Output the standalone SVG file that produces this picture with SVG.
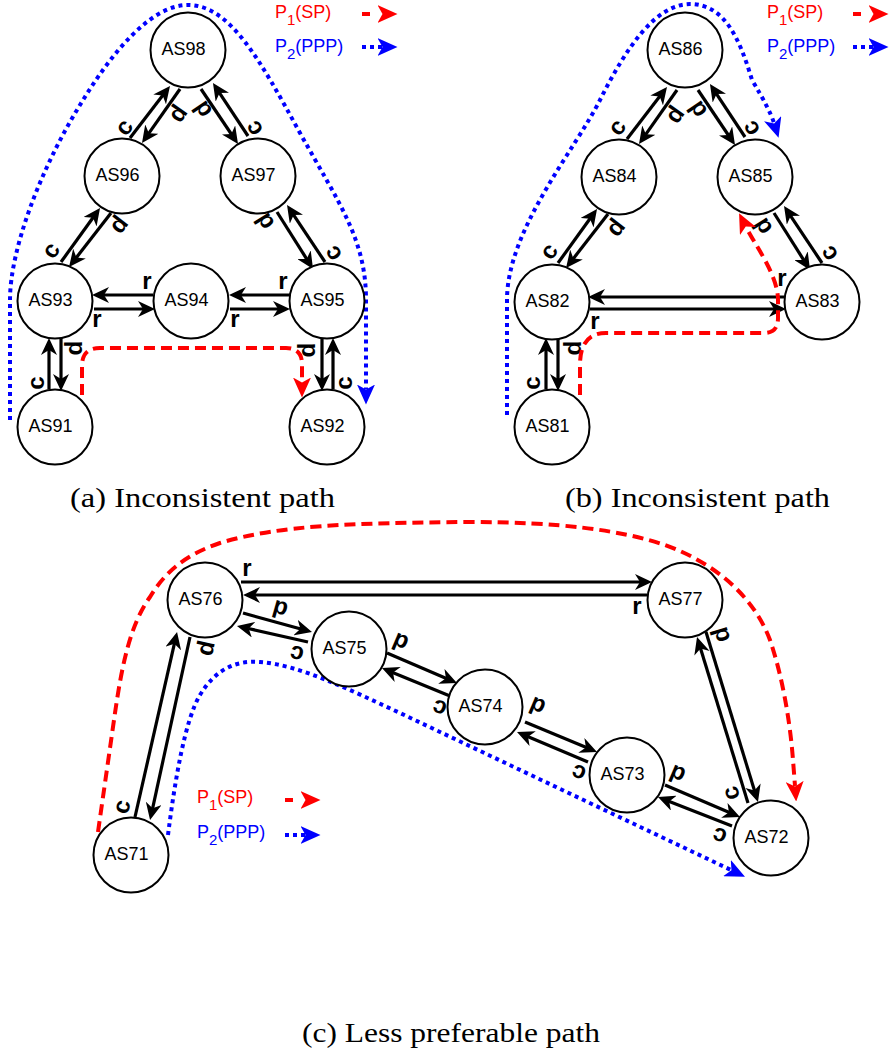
<svg xmlns="http://www.w3.org/2000/svg" width="891" height="1055" viewBox="0 0 891 1055">
  <defs>
    <marker id="ah" markerUnits="userSpaceOnUse" viewBox="0 0 17 16" markerWidth="17" markerHeight="16" refX="5.5" refY="8" orient="auto">
      <path d="M0,0 L17,8 L0,16 L5,8 Z" fill="#000"/>
    </marker>
    <marker id="ah-red" markerUnits="userSpaceOnUse" viewBox="0 0 20 18" markerWidth="20" markerHeight="18" refX="4.5" refY="9" orient="auto">
      <path d="M0,0 L20,9 L0,18 L5,9 Z" fill="#f00"/>
    </marker>
    <marker id="ah-blue" markerUnits="userSpaceOnUse" viewBox="0 0 20 18" markerWidth="20" markerHeight="18" refX="4.5" refY="9" orient="auto">
      <path d="M0,0 L20,9 L0,18 L5,9 Z" fill="#00f"/>
    </marker>
  </defs>
  <style>
    .node circle { fill: #fff; stroke: #000; stroke-width: 2; }
    .node text { font-family: "Liberation Sans", Arial, sans-serif; font-size: 18px; text-anchor: middle; fill: #000; }
    .link { fill: none; stroke: #000; stroke-width: 3.2; marker-end: url(#ah); }
    .rel { font-family: "Liberation Sans", Arial, sans-serif; font-size: 24px; font-weight: bold; text-anchor: middle; fill: #000; }
    .sp { fill: none; stroke: #f00; stroke-width: 4; stroke-dasharray: 11 6; marker-end: url(#ah-red); }
    .ppp { fill: none; stroke: #00f; stroke-width: 4; stroke-dasharray: 4 4; marker-end: url(#ah-blue); }
    .key { font-family: "Liberation Sans", Arial, sans-serif; font-size: 18px; }
    .key tspan.sub { font-size: 15px; }
    .cap { font-family: "Liberation Serif", "Times New Roman", serif; font-size: 28px; fill: #000; }
  </style>

  <rect width="891" height="1055" fill="#fff"/>

  <!-- ===== connectors (AS relationships) ===== -->
  <g id="connectors">
    <!-- panel a -->
    <path class="link" d="M94,309 L143.5,309"/>
    <path class="link" d="M153,295 L103.5,295"/>
    <path class="link" d="M230,309 L278.5,309"/>
    <path class="link" d="M290,295 L240.5,295"/>
    <path class="link" d="M49,389 L49,349.5"/>
    <path class="link" d="M61,338 L61,379.5"/>
    <path class="link" d="M322,338 L322,379.5"/>
    <path class="link" d="M333,389 L333,349.5"/>
    <path class="link" d="M61,262 L93.3,217.3"/>
    <path class="link" d="M111,213 L76.1,257.9"/>
    <path class="link" d="M130,138 L163,95.1"/>
    <path class="link" d="M180,89 L148.6,133.6"/>
    <path class="link" d="M201,89 L231.6,134.5"/>
    <path class="link" d="M248,136 L219.3,92.6"/>
    <path class="link" d="M277,212 L306.9,259.3"/>
    <path class="link" d="M325,262 L293.4,214.6"/>

    <!-- panel b -->
    <path class="link" d="M627,139 L660,96.1"/>
    <path class="link" d="M677,90 L645.6,134.6"/>
    <path class="link" d="M698,90 L728.6,135.5"/>
    <path class="link" d="M745,137 L716.3,93.6"/>
    <path class="link" d="M558,263 L590.3,218.3"/>
    <path class="link" d="M608,214 L573.1,258.9"/>
    <path class="link" d="M774,213 L803.9,260.3"/>
    <path class="link" d="M822,263 L790.4,215.6"/>
    <path class="link" d="M785,297 L599.5,297"/>
    <path class="link" d="M590,309 L774.5,309"/>
    <path class="link" d="M546,389 L546,349.5"/>
    <path class="link" d="M558,338 L558,379.5"/>

    <!-- panel c -->
    <path class="link" d="M241,582 L640.5,582"/>
    <path class="link" d="M647,595 L254.5,595"/>
    <path class="link" d="M243,613 L300.9,629"/>
    <path class="link" d="M308,642 L248.2,628.5"/>
    <path class="link" d="M387,653 L446.4,678.5"/>
    <path class="link" d="M450,696 L392.6,672.4"/>
    <path class="link" d="M525,722 L586.4,747.6"/>
    <path class="link" d="M588,762 L527.6,736.5"/>
    <path class="link" d="M665,785 L729.4,812.5"/>
    <path class="link" d="M732,826 L668.7,801.2"/>
    <path class="link" d="M748,803 L700.4,648"/>
    <path class="link" d="M706,632 L754.6,791"/>
    <path class="link" d="M135,817 L174.5,643.2"/>
    <path class="link" d="M190,637 L152.5,808.8"/>

    <!-- relationship labels: panel a -->
    <text class="rel" transform="translate(125,128) rotate(-53)" y="6.5">c</text>
    <text class="rel" transform="translate(177,113) rotate(125)" y="4">p</text>
    <text class="rel" transform="translate(202,110) rotate(56)" y="4">p</text>
    <text class="rel" transform="translate(255,128) rotate(-123)" y="6.5">c</text>
    <text class="rel" transform="translate(52,251) rotate(-54)" y="6.5">c</text>
    <text class="rel" transform="translate(118,224) rotate(128)" y="4">p</text>
    <text class="rel" transform="translate(264,222) rotate(58)" y="4">p</text>
    <text class="rel" transform="translate(334,253) rotate(-124)" y="6.5">c</text>
    <text class="rel" x="147" y="289">r</text>
    <text class="rel" x="97" y="327">r</text>
    <text class="rel" x="283" y="289">r</text>
    <text class="rel" x="235" y="327">r</text>
    <text class="rel" transform="translate(73,348) rotate(90)" y="4">p</text>
    <text class="rel" transform="translate(37,383) rotate(-90)" y="6.5">c</text>
    <text class="rel" transform="translate(306,350) rotate(90)" y="4">p</text>
    <text class="rel" transform="translate(345,383) rotate(-90)" y="6.5">c</text>

    <!-- relationship labels: panel b -->
    <text class="rel" transform="translate(618,128) rotate(-53)" y="6.5">c</text>
    <text class="rel" transform="translate(674,114) rotate(125)" y="4">p</text>
    <text class="rel" transform="translate(697,110) rotate(56)" y="4">p</text>
    <text class="rel" transform="translate(752,128) rotate(-123)" y="6.5">c</text>
    <text class="rel" transform="translate(550,252) rotate(-54)" y="6.5">c</text>
    <text class="rel" transform="translate(615,227) rotate(128)" y="4">p</text>
    <text class="rel" transform="translate(762,227) rotate(58)" y="4">p</text>
    <text class="rel" transform="translate(830,253) rotate(-124)" y="6.5">c</text>
    <text class="rel" x="782" y="286">r</text>
    <text class="rel" x="595" y="329">r</text>
    <text class="rel" transform="translate(572,348) rotate(90)" y="4">p</text>
    <text class="rel" transform="translate(533,383) rotate(-90)" y="6.5">c</text>

    <!-- relationship labels: panel c -->
    <text class="rel" x="247" y="576">r</text>
    <text class="rel" x="637" y="614">r</text>
    <text class="rel" transform="translate(280,610) rotate(16)" y="4">p</text>
    <text class="rel" transform="translate(297,653) rotate(196)" y="6.5">c</text>
    <text class="rel" transform="translate(400,643) rotate(23)" y="4">p</text>
    <text class="rel" transform="translate(440,707) rotate(202)" y="6.5">c</text>
    <text class="rel" transform="translate(537,707) rotate(23)" y="4">p</text>
    <text class="rel" transform="translate(579,772) rotate(203)" y="6.5">c</text>
    <text class="rel" transform="translate(677,775) rotate(23)" y="4">p</text>
    <text class="rel" transform="translate(720,835) rotate(201)" y="6.5">c</text>
    <text class="rel" transform="translate(720,635) rotate(73)" y="4">p</text>
    <text class="rel" transform="translate(732,793) rotate(-107)" y="6.5">c</text>
    <text class="rel" transform="translate(205,648) rotate(102)" y="4">p</text>
    <text class="rel" transform="translate(123,807) rotate(-77)" y="6.5">c</text>
  </g>

  <!-- ===== routing paths ===== -->
  <g id="paths">
    <!-- panel a -->
    <path class="ppp" d="M10,420 L10,300 C10,250 40,170 80,105 C110,55 150,5 188,5 C230,5 260,60 300,133 C340,205 366,240 366,300 L366,389"/>
    <path class="sp" d="M82,395 L82,366 Q82,348 100,348 L286,348 Q302,348 302,364 L302,382"/>
    <!-- panel b -->
    <path class="ppp" d="M507,415 L507,300 C507,230 575,150 600,100 S655,4 690,4 S740,40 752,80 Q770,110 774,123"/>
    <path class="sp" d="M580,395 L580,365 Q580,333 606,333 L764,333 Q778,333 778,318 L778,300 C778,275 755,245 746,227"/>
    <!-- panel c -->
    <path class="sp" d="M98,832 L115,713 C122,665 130,625 150,597 C165,572 185,555 220,543 C280,525 350,523 470,522 C560,522 620,530 665,545 C720,565 755,600 770,640 C782,675 790,720 793,760 L795,786"/>
    <path class="ppp" d="M168,835 C175,780 185,720 200,695 C215,670 235,660 260,662 C300,665 350,690 400,713 L731,870"/>
  </g>

  <!-- ===== nodes ===== -->
  <g id="AS98" class="node"><circle cx="188" cy="50" r="37.5"/><text x="183.5" y="54.5">AS98</text></g>
  <g id="AS96" class="node"><circle cx="122" cy="176" r="37.5"/><text x="117.5" y="180.5">AS96</text></g>
  <g id="AS97" class="node"><circle cx="258" cy="176" r="37.5"/><text x="253.5" y="180.5">AS97</text></g>
  <g id="AS93" class="node"><circle cx="55" cy="301" r="37.5"/><text x="50.5" y="305.5">AS93</text></g>
  <g id="AS94" class="node"><circle cx="191" cy="301" r="37.5"/><text x="186.5" y="305.5">AS94</text></g>
  <g id="AS95" class="node"><circle cx="327" cy="301" r="37.5"/><text x="322.5" y="305.5">AS95</text></g>
  <g id="AS91" class="node"><circle cx="55" cy="427" r="37.5"/><text x="50.5" y="431.5">AS91</text></g>
  <g id="AS92" class="node"><circle cx="327" cy="427" r="37.5"/><text x="322.5" y="431.5">AS92</text></g>

  <g id="AS86" class="node"><circle cx="685" cy="50" r="37.5"/><text x="680.5" y="54.5">AS86</text></g>
  <g id="AS84" class="node"><circle cx="619" cy="177" r="37.5"/><text x="614.5" y="181.5">AS84</text></g>
  <g id="AS85" class="node"><circle cx="755" cy="177" r="37.5"/><text x="750.5" y="181.5">AS85</text></g>
  <g id="AS82" class="node"><circle cx="552" cy="302" r="37.5"/><text x="547.5" y="306.5">AS82</text></g>
  <g id="AS83" class="node"><circle cx="822" cy="302" r="37.5"/><text x="817.5" y="306.5">AS83</text></g>
  <g id="AS81" class="node"><circle cx="552" cy="427" r="37.5"/><text x="547.5" y="431.5">AS81</text></g>

  <g id="AS76" class="node"><circle cx="205" cy="600" r="37.5"/><text x="200.5" y="604.5">AS76</text></g>
  <g id="AS75" class="node"><circle cx="349" cy="649" r="37.5"/><text x="344.5" y="653.5">AS75</text></g>
  <g id="AS77" class="node"><circle cx="685" cy="600" r="37.5"/><text x="680.5" y="604.5">AS77</text></g>
  <g id="AS74" class="node"><circle cx="485" cy="707" r="37.5"/><text x="480.5" y="711.5">AS74</text></g>
  <g id="AS73" class="node"><circle cx="627" cy="775" r="37.5"/><text x="622.5" y="779.5">AS73</text></g>
  <g id="AS72" class="node"><circle cx="771" cy="838" r="37.5"/><text x="766.5" y="842.5">AS72</text></g>
  <g id="AS71" class="node"><circle cx="131" cy="855" r="37.5"/><text x="126.5" y="859.5">AS71</text></g>

  <!-- ===== legends ===== -->
  <g id="legend-a">
    <text class="key" x="275" y="18" fill="#f00">P<tspan class="sub" dy="7">1</tspan><tspan dy="-7">(SP)</tspan></text>
    <text class="key" x="275" y="52" fill="#00f">P<tspan class="sub" dy="7">2</tspan><tspan dy="-7">(PPP)</tspan></text>
    <path class="sp" d="M362,14 L382,14" style="stroke-dasharray:8 12"/>
    <path class="ppp" d="M362,47 L382,47"/>
  </g>
  <g id="legend-b">
    <text class="key" x="767" y="18" fill="#f00">P<tspan class="sub" dy="7">1</tspan><tspan dy="-7">(SP)</tspan></text>
    <text class="key" x="767" y="52" fill="#00f">P<tspan class="sub" dy="7">2</tspan><tspan dy="-7">(PPP)</tspan></text>
    <path class="sp" d="M853,14 L873,14" style="stroke-dasharray:8 12"/>
    <path class="ppp" d="M853,47 L873,47"/>
  </g>
  <g id="legend-c">
    <text class="key" x="197" y="803" fill="#f00">P<tspan class="sub" dy="7">1</tspan><tspan dy="-7">(SP)</tspan></text>
    <text class="key" x="197" y="838" fill="#00f">P<tspan class="sub" dy="7">2</tspan><tspan dy="-7">(PPP)</tspan></text>
    <path class="sp" d="M285,800 L305,800" style="stroke-dasharray:8 12"/>
    <path class="ppp" d="M285,835 L305,835"/>
  </g>

  <!-- ===== captions ===== -->
  <g id="captions">
    <text class="cap" x="70" y="507" textLength="265" lengthAdjust="spacingAndGlyphs">(a) Inconsistent path</text>
    <text class="cap" x="565" y="507" textLength="265" lengthAdjust="spacingAndGlyphs">(b) Inconsistent path</text>
    <text class="cap" x="302" y="1042" textLength="298" lengthAdjust="spacingAndGlyphs">(c) Less preferable path</text>
  </g>
</svg>
